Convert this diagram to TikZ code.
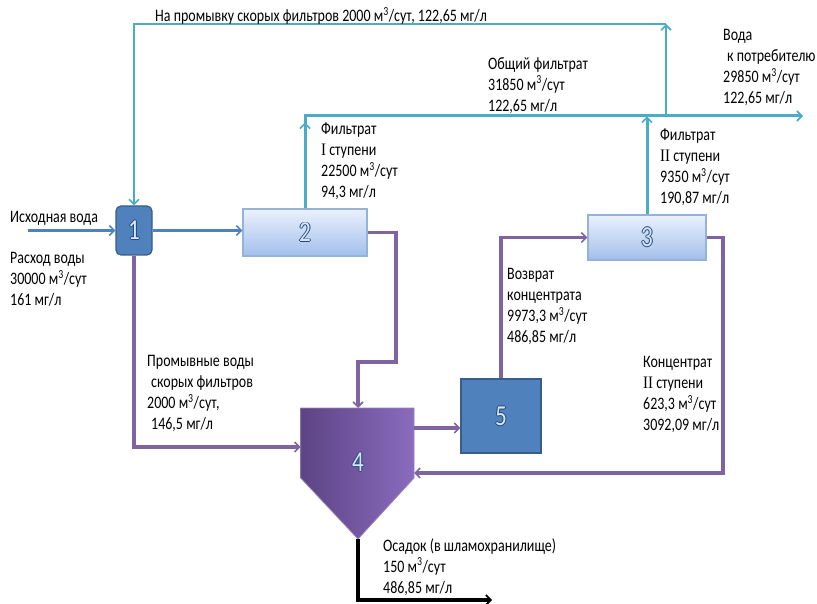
\documentclass[tikz,border=0pt]{standalone}
\usepackage{fontspec}
\setmainfont{Carlito}[FakeStretch=0.8]
\newfontfamily\romf{Liberation Serif}[FakeStretch=0.85]
\usetikzlibrary{arrows.meta}
\definecolor{cyanl}{HTML}{4BACC6}
\definecolor{steel}{HTML}{4F81BD}
\definecolor{purp}{HTML}{8064A2}
\definecolor{dkpurp}{HTML}{5C4484}
\definecolor{ltpurp}{HTML}{8A6BBE}
\definecolor{boxbd}{HTML}{385D8A}
\definecolor{ltop}{HTML}{EAF1FD}
\definecolor{lbot}{HTML}{A3BFEB}
\definecolor{lbd}{HTML}{95B3D7}
\definecolor{numout}{HTML}{1F497D}
\definecolor{numin}{HTML}{DCE6F2}
\newcommand\olnum[1]{\leavevmode\rlap{\textcolor{numout}{\hspace{-0.9pt}#1}}\rlap{\textcolor{numout}{\hspace{0.9pt}#1}}\rlap{\textcolor{numout}{\raisebox{0.9pt}{#1}}}\rlap{\textcolor{numout}{\raisebox{-0.9pt}{#1}}}\textcolor{numin}{#1}}
\newcommand\mk{м\textsuperscript{3}/сут}
\tikzset{
  lbl/.style={anchor=north west,align=left,inner sep=0pt,font=\fontsize{17.5}{21}\selectfont},
  lbl1/.style={anchor=base west,inner sep=0pt,font=\fontsize{17.5}{21}\selectfont},
  num/.style={font=\fontsize{29}{29}\selectfont},
  tip/.style={-{Straight Barb[length=5pt,width=10pt,line width=1.6pt]}},
  cyanln/.style={draw=cyanl,line width=2pt},
  cyanthick/.style={draw=cyanl,line width=3pt},
  steelln/.style={draw=steel,line width=2.5pt},
  purpln/.style={draw=purp,line width=3.5pt},
  blackln/.style={draw=black,line width=3.5pt},
  darkbox/.style={fill=steel,draw=boxbd,line width=1.2pt,num},
  lightbox/.style={top color=ltop,bottom color=lbot,draw=lbd,line width=1.2pt,num},
}
\begin{document}
\begin{tikzpicture}[x=1pt,y=-1pt]
\useasboundingbox (0,0) rectangle (817,604);
% nodes
\node[darkbox,rounded corners=5pt,minimum width=36pt,minimum height=49pt] (n1) at (134,230.5) {\olnum{1}};
\node[lightbox,minimum width=124pt,minimum height=47pt] (n2) at (305,232.5) {\olnum{2}};
\node[lightbox,minimum width=118pt,minimum height=45pt] (n3) at (647,237.5) {\olnum{3}};
\node[darkbox,minimum width=80pt,minimum height=74pt] (n5) at (501,416) {\olnum{5}};
% settler 4
\shade[left color=dkpurp,right color=ltpurp] (300.7,408) -- (414,408) -- (414,478) -- (358,539) -- (300.7,478) -- cycle;
\draw[draw=purp!80!white,line width=0.8pt] (300.7,408) -- (414,408) -- (414,478) -- (358,539) -- (300.7,478) -- cycle;
\node[num,inner sep=0pt] (n4) at (358,462) {\olnum{4}};
\coordinate (n4top) at (358,408);
\coordinate (n4l) at (300.7,447);
\coordinate (n4r1) at (414,428);
\coordinate (n4r2) at (414,473);
\coordinate (n4bot) at (358,539);
% free ends and bends
\coordinate (in) at (28,230.5);
\coordinate (br) at (666,116);
\coordinate (tr) at (666,24);
\coordinate (tl) at (134,24);
\coordinate (out) at (803,116);
\coordinate (sl) at (492,600);
\coordinate (p2a) at (396,232.5);
\coordinate (p2b) at (396,362);
\coordinate (p2c) at (358,362);
\coordinate (p3a) at (723,237.5);
\coordinate (p3b) at (723,473);
% connectors
\draw[steelln,tip] (in) -- (n1.west);
\draw[steelln,tip] (n1.east) -- (n2.west |- n1.east);
\draw[cyanln,tip] (br) -- (tr);
\draw[cyanln,tip] (tr) -- (tl) -- (n1.north);
\draw[cyanthick,tip] (n2.north) |- (out);
\draw[cyanthick,tip] (n2.north) -- ++(0,-86);
\draw[cyanthick,tip] (n3.north) -- ++(0,-98);
\draw[purpln,tip] (n2.east) -- (p2a) -- (p2b) -- (p2c) -- (n4top);
\draw[purpln,tip] (n1.south) |- (n4l);
\draw[purpln,tip] (n4r1) -- (n5.west |- n4r1);
\draw[purpln,tip] (n5.north) |- (n3.west);
\draw[purpln,tip] (n3.east) -- (p3a) -- (p3b) -- (n4r2);
\draw[blackln,tip] (n4bot) |- (sl);
% labels
\node[lbl1] (t1) at (155,22) {На промывку скорых фильтров 2000 \mk, 122,65 мг/л};
\node[lbl] (t2) at (321,123) {Фильтрат\\{\romf I} ступени\\22500 \mk\\94,3 мг/л};
\node[lbl] (t3) at (488,57) {Общий фильтрат\\31850 \mk\\122,65 мг/л};
\node[lbl] (t4) at (723,29) {Вода\\\hspace{4pt}к потребителю\\29850 \mk\\122,65 мг/л};
\node[lbl] (t5) at (660,129) {Фильтрат\\{\romf II} ступени\\9350 \mk\\190,87 мг/л};
\node[lbl1] (t6) at (10,223) {Исходная вода};
\node[lbl] (t7) at (10,252) {Расход воды\\30000 \mk\\161 мг/л};
\node[lbl] (t8) at (147,355) {Промывные воды\\\hspace{4pt}скорых фильтров\\2000 \mk,\\\hspace{4pt}146,5 мг/л};
\node[lbl] (t9) at (507,268) {Возврат\\концентрата\\9973,3 \mk\\486,85 мг/л};
\node[lbl] (t10) at (643,356) {Концентрат\\{\romf II} ступени\\623,3 \mk\\3092,09 мг/л};
\node[lbl] (t11) at (383,538) {Осадок (в шламохранилище)\\150 \mk\\486,85 мг/л};
\end{tikzpicture}
\end{document}
